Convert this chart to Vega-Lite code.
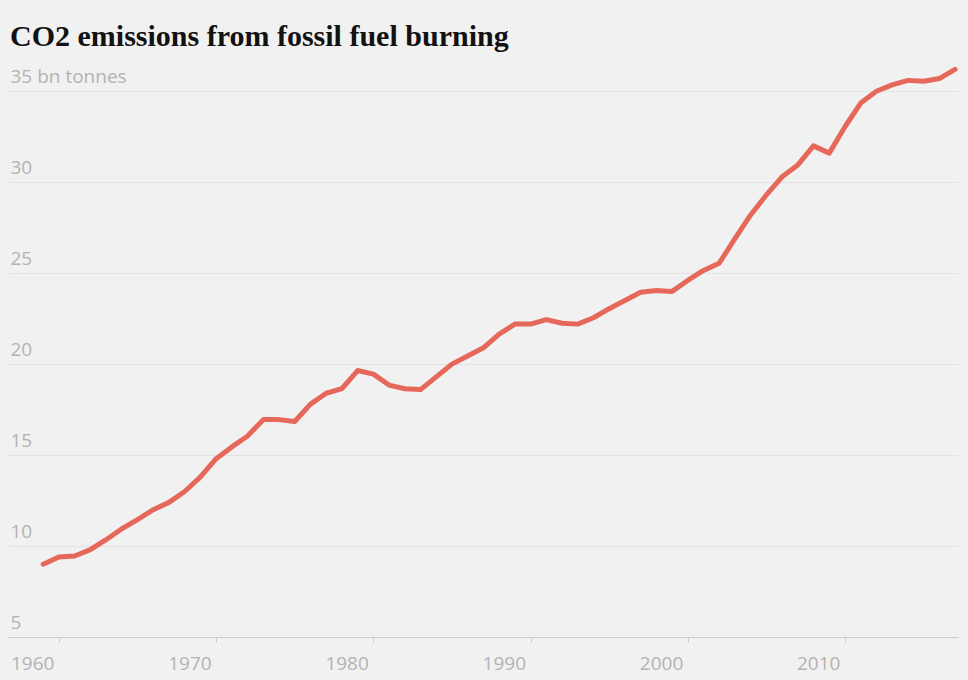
{
  "$schema": "https://vega.github.io/schema/vega-lite/v6.json",
  "autosize": "none",
  "width": 950,
  "height": 573,
  "padding": {"left": 8, "top": 64, "right": 10, "bottom": 43},
  "background": "#f1f1f1",
  "title": {
    "text": "CO2 emissions from fossil fuel burning",
    "anchor": "start",
    "frame": "group",
    "font": "Liberation Serif",
    "fontSize": 30,
    "fontWeight": "bold",
    "color": "#121212",
    "baseline": "alphabetic",
    "offset": -12,
    "dx": 2
  },
  "config": {
    "view": {"stroke": null},
    "axis": {"labelFont": "Open Sans", "labelFontSize": 19, "labelColor": "#b3b3b3", "titleColor": "#b3b3b3"}
  },
  "data": {
    "values": [
      {"year": 1959, "co2": 9.0}, {"year": 1960, "co2": 9.4}, {"year": 1961, "co2": 9.45},
      {"year": 1962, "co2": 9.8}, {"year": 1963, "co2": 10.35}, {"year": 1964, "co2": 10.95},
      {"year": 1965, "co2": 11.45}, {"year": 1966, "co2": 12.0}, {"year": 1967, "co2": 12.4},
      {"year": 1968, "co2": 13.0}, {"year": 1969, "co2": 13.8}, {"year": 1970, "co2": 14.8},
      {"year": 1971, "co2": 15.45}, {"year": 1972, "co2": 16.05}, {"year": 1973, "co2": 16.95},
      {"year": 1974, "co2": 16.95}, {"year": 1975, "co2": 16.85}, {"year": 1976, "co2": 17.8},
      {"year": 1977, "co2": 18.4}, {"year": 1978, "co2": 18.65}, {"year": 1979, "co2": 19.65},
      {"year": 1980, "co2": 19.45}, {"year": 1981, "co2": 18.85}, {"year": 1982, "co2": 18.65},
      {"year": 1983, "co2": 18.6}, {"year": 1984, "co2": 19.3}, {"year": 1985, "co2": 20.0},
      {"year": 1986, "co2": 20.45}, {"year": 1987, "co2": 20.9}, {"year": 1988, "co2": 21.65},
      {"year": 1989, "co2": 22.2}, {"year": 1990, "co2": 22.2}, {"year": 1991, "co2": 22.45},
      {"year": 1992, "co2": 22.25}, {"year": 1993, "co2": 22.2}, {"year": 1994, "co2": 22.55},
      {"year": 1995, "co2": 23.05}, {"year": 1996, "co2": 23.5}, {"year": 1997, "co2": 23.95},
      {"year": 1998, "co2": 24.05}, {"year": 1999, "co2": 24.0}, {"year": 2000, "co2": 24.6},
      {"year": 2001, "co2": 25.15}, {"year": 2002, "co2": 25.55}, {"year": 2003, "co2": 26.9},
      {"year": 2004, "co2": 28.2}, {"year": 2005, "co2": 29.3}, {"year": 2006, "co2": 30.3},
      {"year": 2007, "co2": 30.95}, {"year": 2008, "co2": 32.0}, {"year": 2009, "co2": 31.6},
      {"year": 2010, "co2": 33.05}, {"year": 2011, "co2": 34.35}, {"year": 2012, "co2": 35.0},
      {"year": 2013, "co2": 35.35}, {"year": 2014, "co2": 35.6}, {"year": 2015, "co2": 35.55},
      {"year": 2016, "co2": 35.7}, {"year": 2017, "co2": 36.2}
    ]
  },
  "mark": {"type": "line", "color": "#e5685a", "strokeWidth": 5, "strokeJoin": "round", "strokeCap": "round"},
  "encoding": {
    "x": {
      "field": "year",
      "type": "quantitative",
      "scale": {"domain": [1956.76, 2017.19], "nice": false, "zero": false},
      "axis": {
        "title": null,
        "values": [1960, 1970, 1980, 1990, 2000, 2010],
        "format": "d",
        "grid": false,
        "domain": true,
        "domainColor": "#cccccc",
        "ticks": true,
        "tickColor": "#cccccc",
        "tickSize": 5,
        "labelAlign": "right",
        "labelOffset": -5,
        "labelPadding": 12,
        "labelBaseline": "top",
        "zindex": 1
      }
    },
    "y": {
      "field": "co2",
      "type": "quantitative",
      "scale": {"domain": [5, 36.5], "nice": false, "zero": false},
      "axis": {
        "title": null,
        "values": [5, 10, 15, 20, 25, 30, 35],
        "labelExpr": "datum.value == 35 ? '35 bn tonnes' : datum.label",
        "domain": false,
        "ticks": false,
        "grid": true,
        "gridColor": "#e3e3e3",
        "gridWidth": 1,
        "labelAlign": "left",
        "labelBaseline": "alphabetic",
        "labelPadding": -2,
        "labelOffset": -9
      }
    }
  }
}
